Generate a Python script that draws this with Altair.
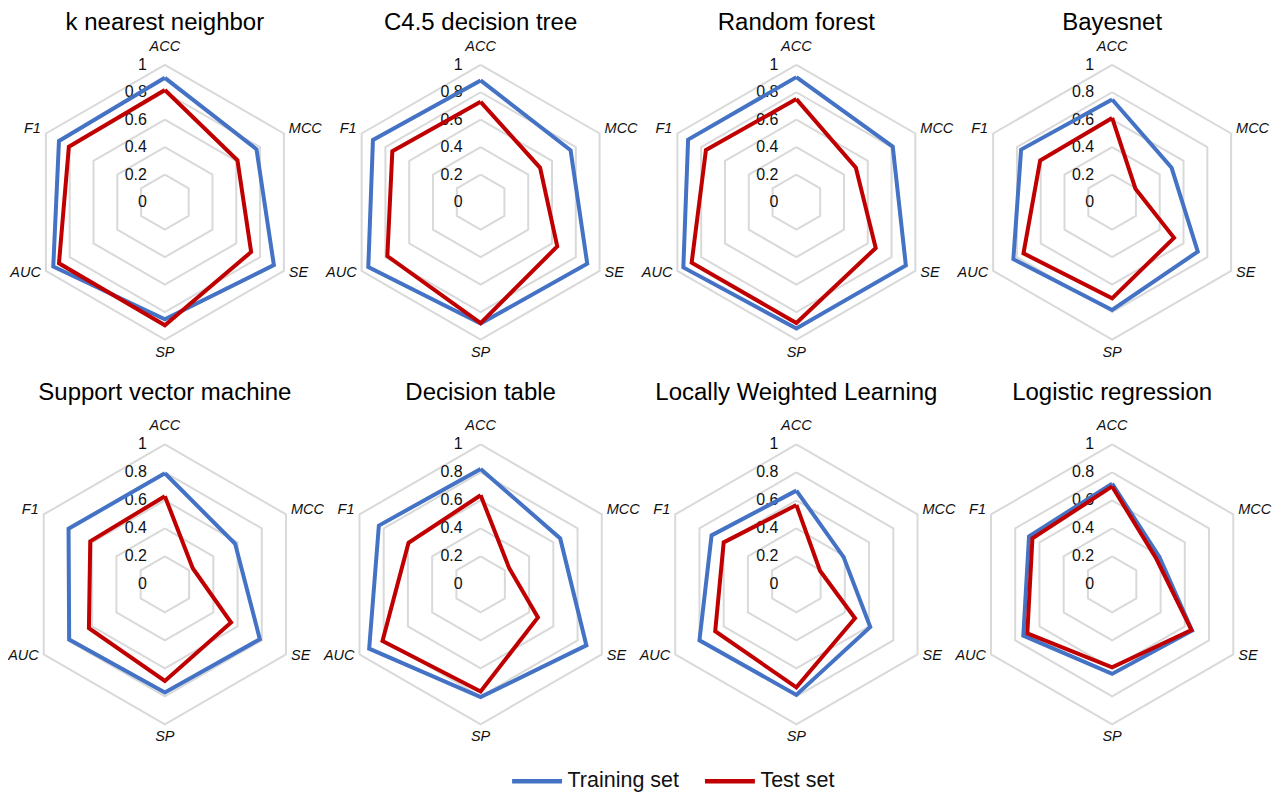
import altair as alt
import pandas as pd

# ---------------- data ----------------
metrics = ["ACC", "MCC", "SE", "SP", "AUC", "F1"]
models = ["k nearest neighbor", "C4.5 decision tree", "Random forest", "Bayesnet",
          "Support vector machine", "Decision table", "Locally Weighted Learning",
          "Logistic regression"]
sets = ["Training set", "Test set"]

train_knn = [0.905, 0.77, 0.916, 0.852, 0.938, 0.89]
train_c45 = [0.886, 0.756, 0.896, 0.884, 0.944, 0.905]
train_rf = [0.91, 0.81, 0.92, 0.92, 0.95, 0.91]
train_bn = [0.747, 0.50, 0.72, 0.785, 0.83, 0.765]
train_svm = [0.794, 0.58, 0.784, 0.773, 0.79, 0.795]
train_dt = [0.825, 0.657, 0.873, 0.806, 0.92, 0.84]
train_lwl = [0.67, 0.39, 0.61, 0.79, 0.80, 0.70]
train_lr = [0.72, 0.39, 0.66, 0.64, 0.733, 0.686]

test_knn = [0.816, 0.61, 0.725, 0.896, 0.89, 0.807]
test_c45 = [0.73, 0.50, 0.644, 0.88, 0.784, 0.742]
test_rf = [0.75, 0.50, 0.667, 0.88, 0.88, 0.76]
test_bn = [0.613, 0.196, 0.52, 0.70, 0.745, 0.605]
test_svm = [0.63, 0.23, 0.546, 0.69, 0.627, 0.616]
test_dt = [0.637, 0.235, 0.473, 0.766, 0.81, 0.595]
test_lwl = [0.567, 0.195, 0.484, 0.736, 0.67, 0.60]
test_lr = [0.70, 0.365, 0.655, 0.593, 0.70, 0.658]

grid_levels = [0.2, 0.4, 0.6, 0.8, 1.0]
tick_values = [0, 0.2, 0.4, 0.6, 0.8, 1.0]
tick_labels = ["0", "0.2", "0.4", "0.6", "0.8", "1"]

train_all = [train_knn, train_c45, train_rf, train_bn, train_svm, train_dt, train_lwl, train_lr]
test_all = [test_knn, test_c45, test_rf, test_bn, test_svm, test_dt, test_lwl, test_lr]

# ---------------- tables ----------------
rows = []
for m, tr, te in zip(models, train_all, test_all):
    for s, vals in zip(sets, [tr, te]):
        for i in range(len(metrics) + 1):  # close the polygon
            rows.append({"model": m, "set": s, "idx": i, "value": vals[i % len(metrics)]})
series_df = pd.DataFrame(rows)

grid_df = pd.DataFrame([{"level": lv, "idx": i} for lv in grid_levels for i in range(len(metrics) + 1)])
tick_df = pd.DataFrame({"value": tick_values, "label": tick_labels})
metric_df = pd.DataFrame({"metric": metrics, "idx": list(range(len(metrics)))})

# ---------------- style ----------------
FONT = "Liberation Sans"
BLUE = "#4472C4"
RED = "#C00000"
GRID = "#D9D9D9"

label_style = {
    "ACC": dict(align="center", baseline="middle", dx=0, dy=-18),
    "MCC": dict(align="left", baseline="middle", dx=5, dy=-4),
    "SE": dict(align="left", baseline="middle", dx=5, dy=2),
    "SP": dict(align="center", baseline="middle", dx=0, dy=13),
    "AUC": dict(align="right", baseline="middle", dx=-5, dy=2),
    "F1": dict(align="right", baseline="middle", dx=-5, dy=-4),
}

color_scale = alt.Scale(domain=sets, range=[BLUE, RED])
PANEL_W = 306


def panel(model, R, top_px, height, title_offset):
    xs = alt.Scale(domain=[-PANEL_W / 2 / R, PANEL_W / 2 / R], nice=False, zero=False)
    ys = alt.Scale(domain=[-(height - top_px) / R, top_px / R], nice=False, zero=False)
    X = alt.X("x:Q", scale=xs, axis=None)
    Y = alt.Y("y:Q", scale=ys, axis=None)

    grid = alt.Chart(grid_df).transform_calculate(
        x="datum.level * sin(datum.idx * PI / 3)",
        y="datum.level * cos(datum.idx * PI / 3)",
    ).mark_line(color=GRID, strokeWidth=2).encode(
        x=X, y=Y, detail="level:N", order="idx:Q"
    )

    ticks = alt.Chart(tick_df).transform_calculate(
        x="0", y="datum.value"
    ).mark_text(align="right", baseline="middle", dx=-18, font=FONT,
                fontSize=16, color="#111111").encode(x=X, y=Y, text="label:N")

    layers = [grid, ticks]
    for s in sets:
        layers.append(
            alt.Chart(series_df).transform_filter(
                (alt.datum.model == model) & (alt.datum.set == s)
            ).transform_calculate(
                x="datum.value * sin(datum.idx * PI / 3)",
                y="datum.value * cos(datum.idx * PI / 3)",
            ).mark_line(strokeWidth=4, strokeJoin="miter").encode(
                x=X, y=Y, order="idx:Q",
                color=alt.Color("set:N", scale=color_scale, title=None,
                                legend=alt.Legend(orient="none", direction="horizontal",
                                                  legendX=498, legendY=692,
                                                  symbolType="stroke", symbolSize=2500,
                                                  symbolStrokeWidth=4.5,
                                                  labelFont=FONT, labelFontSize=21.5,
                                                  labelColor="#111111", labelOffset=3,
                                                  columnPadding=16)),
            )
        )
    for m in metrics:
        st = label_style[m]
        layers.append(
            alt.Chart(metric_df).transform_filter(alt.datum.metric == m).transform_calculate(
                x="sin(datum.idx * PI / 3)", y="cos(datum.idx * PI / 3)"
            ).mark_text(font=FONT, fontSize=14.5, fontStyle="italic", color="#111111", **st).encode(
                x=X, y=Y, text="metric:N"
            )
        )
    return alt.layer(*layers).properties(
        width=PANEL_W, height=height,
        title=alt.TitleParams(text=model, font=FONT, fontSize=24, fontWeight="normal",
                              color="black", anchor="middle", offset=title_offset),
    )


panels = []
for k, m in enumerate(models):
    if k < 4:
        panels.append(panel(m, R=137.5, top_px=140.0, height=320, title_offset=4))
    else:
        panels.append(panel(m, R=140.0, top_px=170.5, height=330, title_offset=9))

chart = alt.concat(*panels, columns=4, spacing={"row": 32, "column": 10}, bounds="flush").properties(
    padding={"left": 0, "top": 2, "right": 0, "bottom": 0}
).configure(font=FONT).configure_view(strokeWidth=0, stroke="transparent")

chart.save("out.html", embed_options={"renderer": "svg", "actions": False})
